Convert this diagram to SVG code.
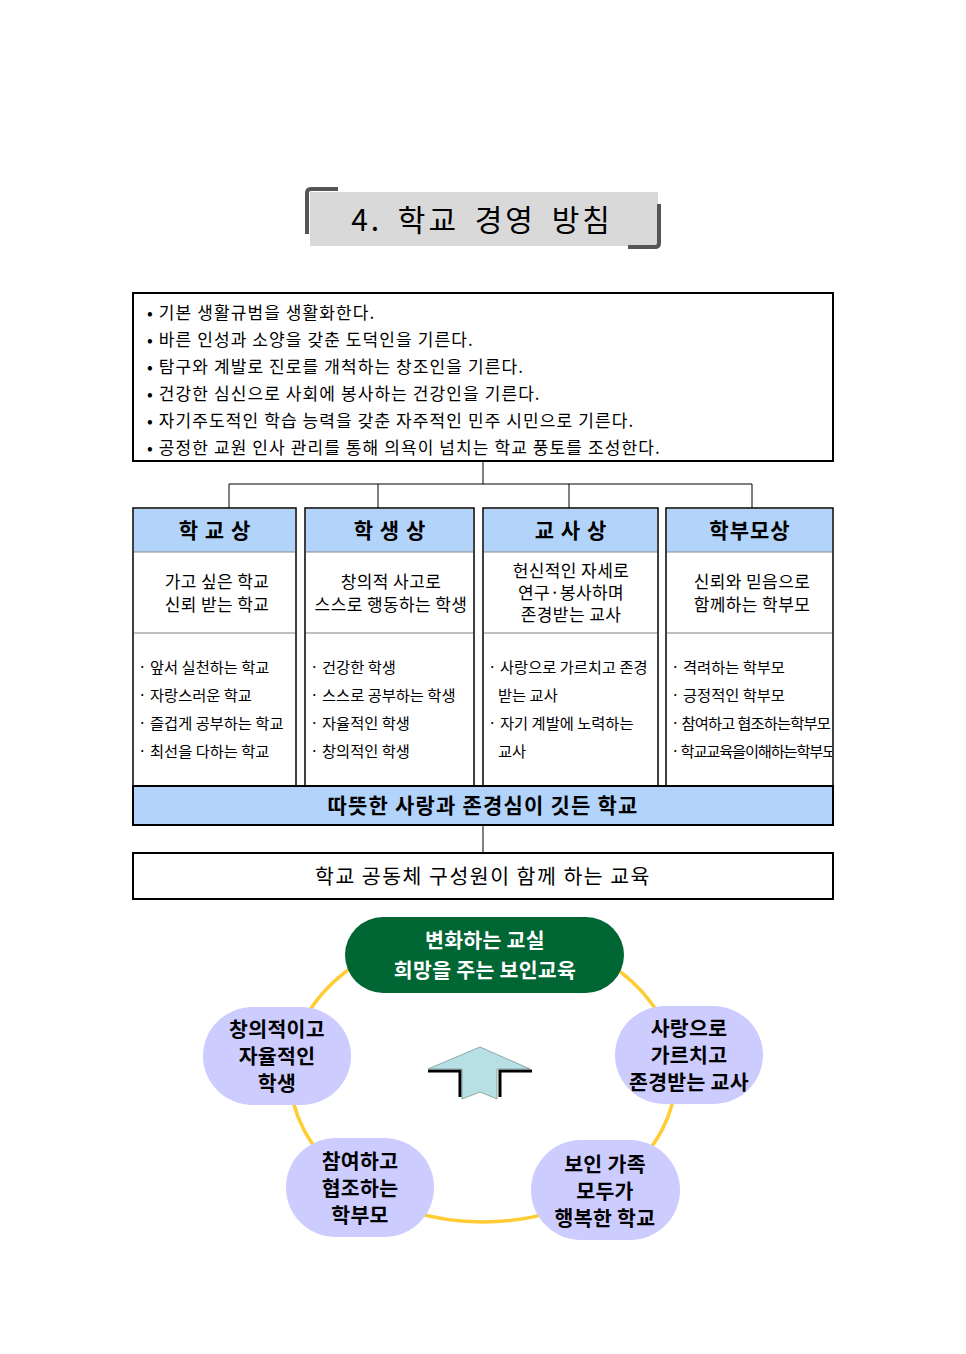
<svg xmlns="http://www.w3.org/2000/svg" width="966" height="1354" viewBox="0 0 966 1354">
<style>
  text { font-family: "Noto Sans CJK KR", "Noto Sans", sans-serif; fill: #000; }
  .goal { font-size: 17px; letter-spacing: 1.1px; }
  .hdr { font-size: 21px; font-weight: bold; text-anchor: middle; letter-spacing: 1px; }
  .mid { font-size: 17px; text-anchor: middle; letter-spacing: 0.4px; }
  .bul { font-size: 15.3px; }
  .band { font-size: 21px; font-weight: bold; text-anchor: middle; letter-spacing: 1.2px; }
  .bub { font-size: 20.5px; font-weight: bold; text-anchor: middle; letter-spacing: 0.3px; }
  .col { fill: #fff; stroke: #000; stroke-width: 1.5; }
  .colhd { fill: #b3d4fa; stroke: none; }
  .conn { stroke: #000; stroke-width: 1; fill: none; }
  .bubble { fill: #ccccff; }
</style>
<defs>
  <clipPath id="c4"><rect x="666" y="640" width="166" height="140"/></clipPath>
</defs>
<rect width="966" height="1354" fill="#fff"/>

<g id="title">
  <rect x="310" y="192" width="348" height="54" fill="#d9d9d9"/>
  <path d="M307,234 L307,193 Q307,189 311,189 L338,189" fill="none" stroke="#555" stroke-width="4"/>
  <path d="M628,247 L655,247 Q659,247 659,243 L659,204" fill="none" stroke="#555" stroke-width="4"/>
  <text x="482" y="231" text-anchor="middle" font-size="30" letter-spacing="3" word-spacing="6" fill="#222">4. 학교 경영 방침</text>
</g>

<g id="goals">
  <rect x="133" y="293" width="700" height="168" fill="#fff" stroke="#000" stroke-width="2"/>
  <text class="goal" x="147" y="319">• 기본 생활규범을 생활화한다.</text>
  <text class="goal" x="147" y="346">• 바른 인성과 소양을 갖춘 도덕인을 기른다.</text>
  <text class="goal" x="147" y="373">• 탐구와 계발로 진로를 개척하는 창조인을 기른다.</text>
  <text class="goal" x="147" y="400">• 건강한 심신으로 사회에 봉사하는 건강인을 기른다.</text>
  <text class="goal" x="147" y="427">• 자기주도적인 학습 능력을 갖춘 자주적인 민주 시민으로 기른다.</text>
  <text class="goal" x="147" y="454">• 공정한 교원 인사 관리를 통해 의욕이 넘치는 학교 풍토를 조성한다.</text>
</g>

<g id="connectors">
  <path class="conn" d="M483,461 L483,484 M229,484 L752,484 M229,484 L229,508 M378,484 L378,508 M569,484 L569,508 M752,484 L752,508 M483,825 L483,853"/>
</g>

<g id="col-school">
  <rect class="col" x="133" y="508" width="163" height="278"/>
  <rect class="colhd" x="134" y="509" width="161" height="43"/>
  <line x1="134" y1="552" x2="295" y2="552" stroke="#888" stroke-width="1"/>
  <line x1="134" y1="633" x2="295" y2="633" stroke="#aaa" stroke-width="1.5"/>
  <text class="hdr" x="215" y="538">학 교 상</text>
  <text class="mid" x="217" y="588">가고 싶은 학교</text>
  <text class="mid" x="217" y="611">신뢰 받는 학교</text>
  <text class="bul" x="138" y="673">· 앞서 실천하는 학교</text>
  <text class="bul" x="138" y="701">· 자랑스러운 학교</text>
  <text class="bul" x="138" y="729">· 즐겁게 공부하는 학교</text>
  <text class="bul" x="138" y="757">· 최선을 다하는 학교</text>
</g>

<g id="col-student">
  <rect class="col" x="305" y="508" width="169" height="278"/>
  <rect class="colhd" x="306" y="509" width="167" height="43"/>
  <line x1="306" y1="552" x2="473" y2="552" stroke="#888" stroke-width="1"/>
  <line x1="306" y1="633" x2="473" y2="633" stroke="#aaa" stroke-width="1.5"/>
  <text class="hdr" x="390" y="538">학 생 상</text>
  <text class="mid" x="391" y="588">창의적 사고로</text>
  <text class="mid" x="391" y="611">스스로 행동하는 학생</text>
  <text class="bul" x="310" y="673">· 건강한 학생</text>
  <text class="bul" x="310" y="701">· 스스로 공부하는 학생</text>
  <text class="bul" x="310" y="729">· 자율적인 학생</text>
  <text class="bul" x="310" y="757">· 창의적인 학생</text>
</g>

<g id="col-teacher">
  <rect class="col" x="483" y="508" width="175" height="278"/>
  <rect class="colhd" x="484" y="509" width="173" height="43"/>
  <line x1="484" y1="552" x2="657" y2="552" stroke="#888" stroke-width="1"/>
  <line x1="484" y1="633" x2="657" y2="633" stroke="#aaa" stroke-width="1.5"/>
  <text class="hdr" x="571" y="538">교 사 상</text>
  <text class="mid" x="571" y="577">헌신적인 자세로</text>
  <text class="mid" x="571" y="599">연구·봉사하며</text>
  <text class="mid" x="571" y="621">존경받는 교사</text>
  <text class="bul" x="488" y="673">· 사랑으로 가르치고 존경</text>
  <text class="bul" x="498" y="701">받는 교사</text>
  <text class="bul" x="488" y="729">· 자기 계발에 노력하는</text>
  <text class="bul" x="498" y="757">교사</text>
</g>

<g id="col-parent">
  <rect class="col" x="666" y="508" width="167" height="278"/>
  <rect class="colhd" x="667" y="509" width="165" height="43"/>
  <line x1="667" y1="552" x2="832" y2="552" stroke="#888" stroke-width="1"/>
  <line x1="667" y1="633" x2="832" y2="633" stroke="#aaa" stroke-width="1.5"/>
  <text class="hdr" x="750" y="538">학부모상</text>
  <text class="mid" x="752" y="588">신뢰와 믿음으로</text>
  <text class="mid" x="752" y="611">함께하는 학부모</text>
  <g clip-path="url(#c4)">
    <text class="bul" x="671" y="673">· 격려하는 학부모</text>
    <text class="bul" x="671" y="701">· 긍정적인 학부모</text>
    <text class="bul" x="671" y="729" letter-spacing="-0.8">· 참여하고 협조하는학부모</text>
    <text class="bul" x="671" y="757" letter-spacing="-1.2">· 학교교육을이해하는학부모</text>
  </g>
</g>

<g id="band-school">
  <rect x="133" y="786" width="700" height="39" fill="#b3d4fa" stroke="#000" stroke-width="2"/>
  <text class="band" x="483" y="813">따뜻한 사랑과 존경심이 깃든 학교</text>
</g>

<g id="band-edu">
  <rect x="133" y="853" width="700" height="46" fill="#fff" stroke="#000" stroke-width="2"/>
  <text x="483" y="884" text-anchor="middle" font-size="20.5" letter-spacing="1.5">학교 공동체 구성원이 함께 하는 교육</text>
</g>

<g id="cycle">
  <ellipse cx="483" cy="1075" rx="193" ry="147" fill="none" stroke="#ffcc33" stroke-width="3.5"/>
</g>

<g id="center-goal">
  <rect x="345" y="917" width="279" height="76" rx="38" ry="38" fill="#006633"/>
  <text class="bub" x="485" y="948" style="fill:#fff">변화하는 교실</text>
  <text class="bub" x="485" y="978" style="fill:#fff">희망을 주는 보인교육</text>
</g>

<g id="bubble-student">
  <rect class="bubble" x="203" y="1007" width="148" height="98" rx="50" ry="49"/>
  <text class="bub" x="277" y="1037">창의적이고</text>
  <text class="bub" x="277" y="1064">자율적인</text>
  <text class="bub" x="277" y="1091">학생</text>
</g>

<g id="bubble-teacher">
  <rect class="bubble" x="615" y="1006" width="148" height="98" rx="50" ry="49"/>
  <text class="bub" x="689" y="1036">사랑으로</text>
  <text class="bub" x="689" y="1063">가르치고</text>
  <text class="bub" x="689" y="1090">존경받는 교사</text>
</g>

<g id="bubble-parent">
  <rect class="bubble" x="286" y="1138" width="148" height="99" rx="50" ry="49"/>
  <text class="bub" x="360" y="1169">참여하고</text>
  <text class="bub" x="360" y="1196">협조하는</text>
  <text class="bub" x="360" y="1223">학부모</text>
</g>

<g id="bubble-school">
  <rect class="bubble" x="531" y="1140" width="149" height="100" rx="50" ry="50"/>
  <text class="bub" x="605" y="1172">보인 가족</text>
  <text class="bub" x="605" y="1199">모두가</text>
  <text class="bub" x="605" y="1226">행복한 학교</text>
</g>

<g id="arrow">
  <path d="M428,1071 L460,1071 L460,1097" fill="none" stroke="#000" stroke-width="3"/>
  <path d="M532,1071 L500,1071 L500,1097" fill="none" stroke="#000" stroke-width="3"/>
  <polygon points="480,1047 530,1069 497,1069 497,1099 480,1092 462,1099 462,1069 428,1069" fill="#b7e0e4" stroke="#6a8a8c" stroke-width="0.7"/>
</g>
</svg>
